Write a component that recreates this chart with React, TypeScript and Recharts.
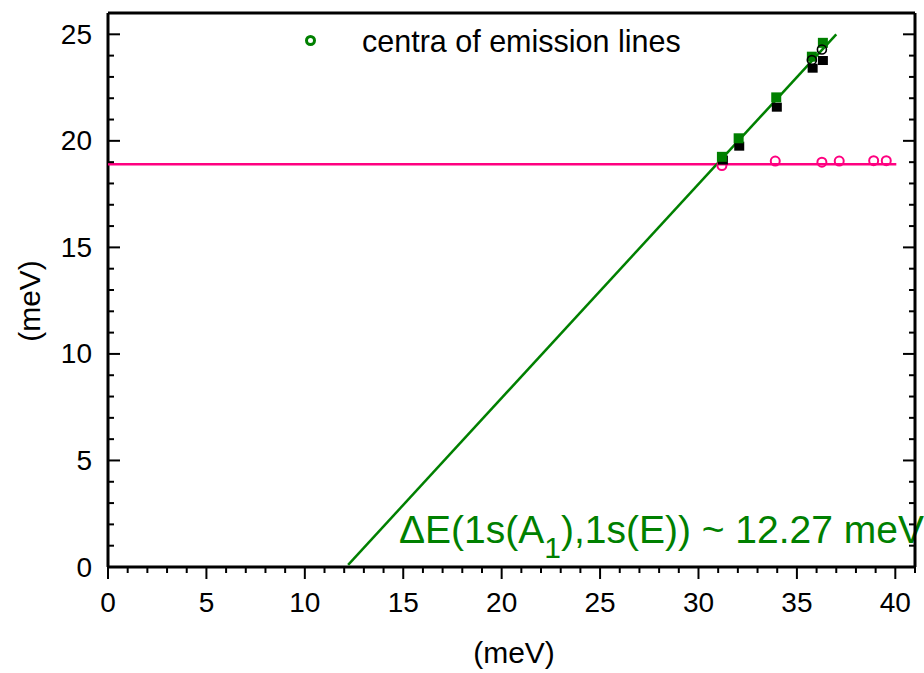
import React from 'react';
import { ComposedChart, Scatter, XAxis, YAxis } from 'recharts';

const GREEN = '#008000';
const PINK = '#ff0080';
const FONT = 'Arial, "Liberation Sans", sans-serif';

// axis ticks (labels on every 5th, minor ticks every 1)
const xTicks = [0, 1, 2, 3, 4, 5, 6, 7, 8, 9, 10, 11, 12, 13, 14, 15, 16, 17, 18, 19, 20, 21, 22, 23, 24, 25, 26, 27, 28, 29, 30, 31, 32, 33, 34, 35, 36, 37, 38, 39, 40, 41];
const yTicks = [0, 1, 2, 3, 4, 5, 6, 7, 8, 9, 10, 11, 12, 13, 14, 15, 16, 17, 18, 19, 20, 21, 22, 23, 24, 25, 26];

// horizontal level (pink) and its fit line
const levelLine = [
  { x: 0, y: 18.9 },
  { x: 40.05, y: 18.9 },
];
const levelPoints = [
  { x: 31.19, y: 18.84 },
  { x: 33.9, y: 19.05 },
  { x: 36.27, y: 19.0 },
  { x: 37.15, y: 19.05 },
  { x: 38.9, y: 19.07 },
  { x: 39.54, y: 19.07 },
];

// emission line centra
const greenSquares = [
  { x: 31.19, y: 19.25 },
  { x: 32.04, y: 20.12 },
  { x: 33.95, y: 22.04 },
  { x: 35.76, y: 23.95 },
  { x: 36.32, y: 24.6 },
];
const blackSquares = [
  { x: 31.24, y: 19.1 },
  { x: 32.07, y: 19.75 },
  { x: 33.98, y: 21.58 },
  { x: 35.8, y: 23.41 },
  { x: 36.32, y: 23.77 },
];
const blackCircles = [
  { x: 35.76, y: 23.79 },
  { x: 36.27, y: 24.29 },
];

// linear fit, slope ~1
const fitLine = [
  { x: 12.2, y: 0.1 },
  { x: 37.0, y: 25.0 },
];

const isMajor = (v: number) => v % 5 === 0;

function BottomTick({ x, y, payload }: any) {
  const v = payload.value;
  return (
    <g>
      <line x1={x} x2={x} y1={y} y2={y + (isMajor(v) ? 12 : 6)} stroke="#000" strokeWidth={2} />
      {isMajor(v) && (
        <text x={x} y={y + 45} textAnchor="middle" fontSize={28} fontFamily={FONT} fill="#000">
          {v}
        </text>
      )}
    </g>
  );
}

function TopTick({ x, y, payload }: any) {
  const v = payload.value;
  return <line x1={x} x2={x} y1={y} y2={y + (isMajor(v) ? 12 : 6)} stroke="#000" strokeWidth={2} />;
}

function LeftTick({ x, y, payload }: any) {
  const v = payload.value;
  return (
    <g>
      <line x1={x} x2={x + (isMajor(v) ? 12 : 6)} y1={y} y2={y} stroke="#000" strokeWidth={2} />
      {isMajor(v) && (
        <text x={x - 16} y={y + 9.5} textAnchor="end" fontSize={28} fontFamily={FONT} fill="#000">
          {v}
        </text>
      )}
    </g>
  );
}

function RightTick({ x, y, payload }: any) {
  const v = payload.value;
  return <line x1={x} x2={x - (isMajor(v) ? 12 : 6)} y1={y} y2={y} stroke="#000" strokeWidth={2} />;
}

const square = (color: string, w: number, h: number) => (p: any) =>
  <rect x={p.cx - w / 2} y={p.cy - h / 2} width={w} height={h} fill={color} />;

const ring = (color: string, r: number, w: number) => (p: any) =>
  <circle cx={p.cx} cy={p.cy} r={r} fill="none" stroke={color} strokeWidth={w} />;

const noMarker = () => <g />;

export default function App() {
  return (
    <div style={{ position: 'absolute', left: 0, top: 0, width: 924, height: 673, background: '#fff' }}>
      <ComposedChart width={924} height={673} margin={{ top: 12, right: 8, bottom: 0, left: 0 }}>
        <XAxis
          type="number"
          dataKey="x"
          domain={[0, 41]}
          ticks={xTicks}
          interval={0}
          allowDataOverflow
          height={106}
          tickSize={0}
          tickMargin={0}
          tickLine={false}
          tick={(p: any) => <BottomTick {...p} />}
          axisLine={{ stroke: '#000', strokeWidth: 3 }}
        />
        <XAxis
          xAxisId="top"
          orientation="top"
          type="number"
          domain={[0, 41]}
          ticks={xTicks}
          interval={0}
          allowDataOverflow
          height={1}
          tickSize={0}
          tickMargin={0}
          tickLine={false}
          tick={(p: any) => <TopTick {...p} />}
          axisLine={{ stroke: '#000', strokeWidth: 3 }}
        />
        <YAxis
          type="number"
          dataKey="y"
          domain={[0, 26]}
          ticks={yTicks}
          interval={0}
          allowDataOverflow
          width={108}
          tickSize={0}
          tickMargin={0}
          tickLine={false}
          tick={(p: any) => <LeftTick {...p} />}
          axisLine={{ stroke: '#000', strokeWidth: 3 }}
        />
        <YAxis
          yAxisId="right"
          orientation="right"
          type="number"
          domain={[0, 26]}
          ticks={yTicks}
          interval={0}
          allowDataOverflow
          width={1}
          tickSize={0}
          tickMargin={0}
          tickLine={false}
          tick={(p: any) => <RightTick {...p} />}
          axisLine={{ stroke: '#000', strokeWidth: 3 }}
        />

        <Scatter data={levelLine} dataKey="y" line={{ stroke: PINK, strokeWidth: 2.5 }} shape={noMarker} isAnimationActive={false} />
        <Scatter data={fitLine} dataKey="y" line={{ stroke: GREEN, strokeWidth: 2.5 }} shape={noMarker} isAnimationActive={false} />
        <Scatter data={levelPoints} dataKey="y" shape={ring(PINK, 4.5, 2)} isAnimationActive={false} />
        <Scatter data={blackSquares} dataKey="y" shape={square('#000', 10, 9)} isAnimationActive={false} />
        <Scatter data={greenSquares} dataKey="y" shape={square(GREEN, 10, 10)} isAnimationActive={false} />
        <Scatter data={blackCircles} dataKey="y" shape={ring('#000', 4.5, 1.6)} isAnimationActive={false} />

        {/* legend */}
        <circle cx={310.5} cy={40.5} r={4} fill="none" stroke={GREEN} strokeWidth={3} />
        <text x={362} y={52} fontSize={30.5} fontFamily={FONT} fill="#000">
          centra of emission lines
        </text>

        {/* annotation */}
        <text x={399} y={543} fontSize={39} fontFamily={FONT} fill={GREEN}>
          <tspan>ΔE(1s(A</tspan>
          <tspan fontSize={30} dy={15}>1</tspan>
          <tspan dy={-15}>),1s(E)) ~ 12.27 meV</tspan>
        </text>

        {/* axis titles */}
        <text x={514} y={663} textAnchor="middle" fontSize={30} fontFamily={FONT} fill="#000">
          (meV)
        </text>
        <text x={40} y={301} transform="rotate(-90 40 301)" textAnchor="middle" fontSize={30} fontFamily={FONT} fill="#000">
          (meV)
        </text>
      </ComposedChart>
    </div>
  );
}
